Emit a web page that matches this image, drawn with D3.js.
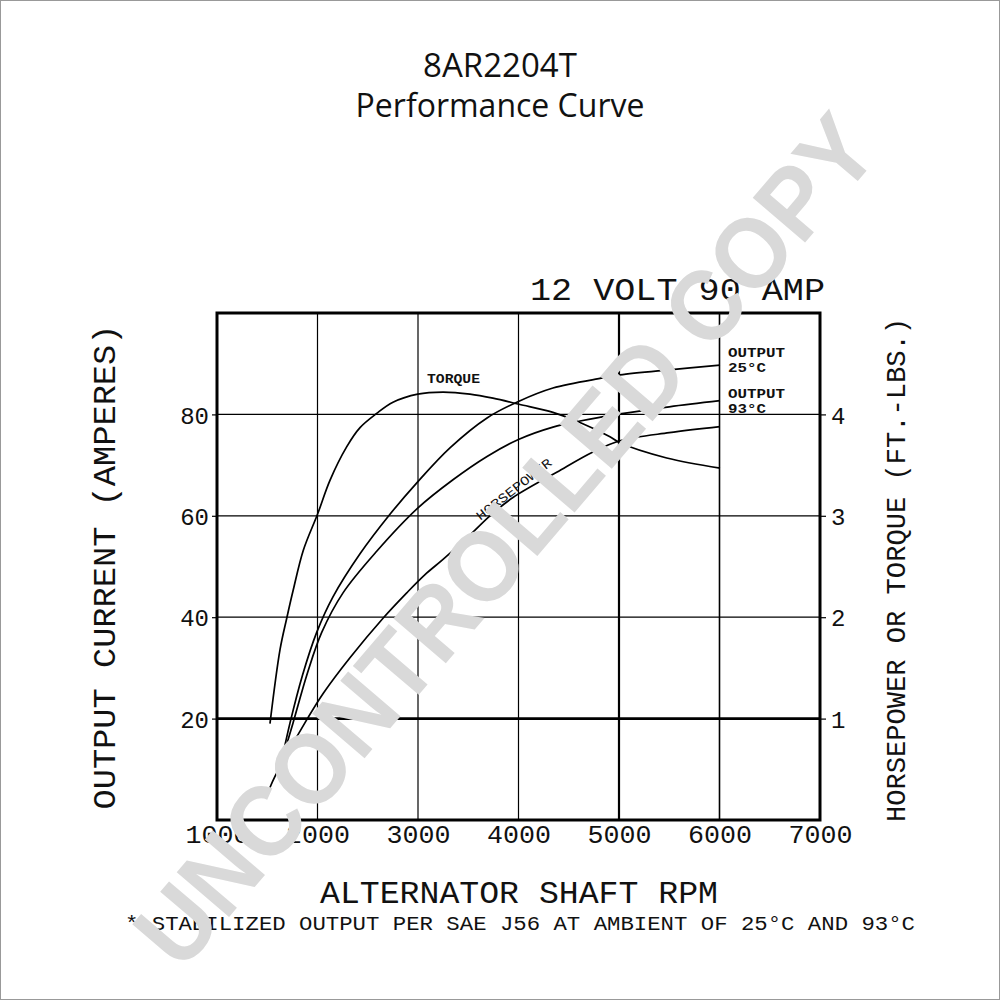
<!DOCTYPE html>
<html>
<head>
<meta charset="utf-8">
<script src="https://cdn.jsdelivr.net/npm/d3@7"></script>
<style>
html,body{margin:0;padding:0;background:#fff;}
svg{display:block;}
</style>
</head>
<body>
<svg id="chart" width="1000" height="1000"></svg>
<script>
// ---- data ----
const rpmTicks = [1000, 2000, 3000, 4000, 5000, 6000, 7000];
const ampTicks = [20, 40, 60, 80];
const hpTicks = [1, 2, 3, 4];

// output current (amperes) vs rpm
const output25 = [[1644,11.8],[1726,19.1],[1850,28.5],[1992,37.0],[2154,44.0],[2423,52.5],[2721,60.3],[2997,66.7],[3318,73.4],[3687,79.3],[4005,82.6],[4343,85.2],[4841,87.2],[5010,87.8],[5500,88.8],[6005,89.7]];
const output93 = [[1647,11.8],[1756,19.1],[1900,29.0],[2042,37.0],[2254,44.8],[2589,53.0],[2997,61.5],[3348,67.1],[3687,71.7],[4005,75.1],[4343,77.5],[4612,78.7],[5010,80.1],[5500,81.5],[6005,82.7]];
// horsepower / torque (right axis units)
const torque = [[1527,0.95],[1627,1.68],[1694,1.99],[1759,2.27],[1859,2.66],[2002,3.02],[2124,3.35],[2290,3.68],[2423,3.87],[2589,4.01],[2751,4.12],[2997,4.20],[3249,4.22],[3517,4.20],[3746,4.16],[4005,4.10],[4343,4.02],[4612,3.92],[4910,3.78],[5010,3.72],[5475,3.57],[6005,3.47]];
const horsepower = [[1527,0.32],[1577,0.43],[1876,0.96],[2058,1.25],[2323,1.60],[2652,1.99],[2888,2.24],[3070,2.42],[3249,2.57],[3485,2.78],[3716,3.00],[3945,3.18],[4380,3.43],[4741,3.63],[5010,3.74],[5500,3.82],[6005,3.88]];

const svg = d3.select("#chart");
const L = 217, R = 820, T = 313, B = 820;
const x = d3.scaleLinear().domain([1000, 7000]).range([L, R]);
const y = d3.scaleLinear().domain([0, 100]).range([B, T]);
const y2 = d3.scaleLinear().domain([0, 5]).range([B, T]);

const MONO = "'Liberation Mono', 'DejaVu Sans Mono', monospace";

// outer frame
svg.append("rect").attr("x",0.5).attr("y",0.5).attr("width",999).attr("height",999)
  .attr("fill","none").attr("stroke","#999").attr("stroke-width",1);

// titles
svg.append("text").attr("x",500).attr("y",77).attr("text-anchor","middle")
  .attr("font-family","'Open Sans', sans-serif").attr("font-size",33).attr("fill","#111")
  .text("8AR2204T");
svg.append("text").attr("x",500).attr("y",117).attr("text-anchor","middle")
  .attr("font-family","'Open Sans', sans-serif").attr("font-size",32).attr("fill","#111")
  .text("Performance Curve");

svg.append("text").attr("x",530).attr("y",300)
  .attr("font-family",MONO).attr("font-size",32).attr("fill","#111")
  .attr("textLength",295).attr("lengthAdjust","spacingAndGlyphs")
  .text("12 VOLT  90 AMP");

// grid
const grid = svg.append("g");
grid.selectAll("line.v").data(rpmTicks.slice(1, -1)).join("line")
  .attr("x1", d => x(d)).attr("x2", d => x(d)).attr("y1", T).attr("y2", B)
  .attr("stroke", "#000").attr("stroke-width", d => d === 5000 ? 2.2 : (d === 6000 ? 1.6 : 1.2));
grid.selectAll("line.h").data(ampTicks).join("line")
  .attr("x1", L).attr("x2", R).attr("y1", d => y(d)).attr("y2", d => y(d))
  .attr("stroke", "#000").attr("stroke-width", d => d === 20 ? 2.6 : 1.2);

// axes
const axL = svg.append("g").attr("transform", `translate(${L},0)`)
  .call(d3.axisLeft(y).tickValues(ampTicks).tickSize(5).tickPadding(3));
const axR = svg.append("g").attr("transform", `translate(${R},0)`)
  .call(d3.axisRight(y2).tickValues(hpTicks).tickSize(6).tickPadding(5).tickFormat(d3.format("d")));
const axB = svg.append("g").attr("transform", `translate(0,${B})`)
  .call(d3.axisBottom(x).tickValues(rpmTicks).tickSize(0).tickPadding(6).tickFormat(d3.format("d")));
[axL, axR, axB].forEach(a => {
  a.select(".domain").remove();
  a.selectAll(".tick line").attr("stroke", "#000").attr("stroke-width", 1.2);
  a.selectAll("text").attr("font-family", MONO).attr("fill", "#111");
});
axL.selectAll("text").attr("font-size", 24).attr("dy", "0.36em");
axR.selectAll("text").attr("font-size", 24).attr("dy", "0.36em");
axB.selectAll("text").attr("font-size", 26).attr("dy", "0.66em")
  .attr("textLength", 64).attr("lengthAdjust", "spacingAndGlyphs");

// curves
const lineA = d3.line().x(d => x(d[0])).y(d => y(d[1])).curve(d3.curveCatmullRom.alpha(0.5));
const lineH = d3.line().x(d => x(d[0])).y(d => y2(d[1])).curve(d3.curveCatmullRom.alpha(0.5));
const curves = svg.append("g").attr("fill", "none").attr("stroke", "#000").attr("stroke-width", 1.7);
curves.append("path").attr("d", lineA(output25));
curves.append("path").attr("d", lineA(output93));
curves.append("path").attr("d", lineH(torque));
curves.append("path").attr("d", lineH(horsepower));

// plot border
svg.append("rect").attr("x", L).attr("y", T).attr("width", R - L).attr("height", B - T)
  .attr("fill", "none").attr("stroke", "#000").attr("stroke-width", 3);

// curve labels
const lab = (tx, ty, s, len) => svg.append("text").attr("x", tx).attr("y", ty)
  .attr("font-family", MONO).attr("font-weight", "bold").attr("font-size", 13).attr("fill", "#111")
  .attr("textLength", len).attr("lengthAdjust", "spacingAndGlyphs").text(s);
lab(728, 357, "OUTPUT", 57);
lab(728, 372, "25°C", 38);
lab(728, 398, "OUTPUT", 57);
lab(728, 413, "93°C", 38);
lab(427, 383, "TORQUE", 53);
svg.append("text").attr("transform", `translate(${x(3620)},${y2(2.95)}) rotate(-38)`)
  .attr("font-family", MONO).attr("font-size", 13).attr("fill", "#111")
  .attr("textLength", 92).attr("lengthAdjust", "spacingAndGlyphs").text("HORSEPOWER");

// axis titles
svg.append("text").attr("transform", "translate(115,567) rotate(-90)").attr("text-anchor", "middle")
  .attr("font-family", MONO).attr("font-size", 32).attr("fill", "#111")
  .attr("textLength", 485).attr("lengthAdjust", "spacingAndGlyphs")
  .text("OUTPUT CURRENT (AMPERES)");
svg.append("text").attr("transform", "translate(905,570) rotate(-90)").attr("text-anchor", "middle")
  .attr("font-family", MONO).attr("font-size", 28).attr("fill", "#111")
  .attr("textLength", 504).attr("lengthAdjust", "spacingAndGlyphs")
  .text("HORSEPOWER OR TORQUE (FT.-LBS.)");
svg.append("text").attr("x", 320).attr("y", 903)
  .attr("font-family", MONO).attr("font-size", 32).attr("fill", "#111")
  .attr("textLength", 398).attr("lengthAdjust", "spacingAndGlyphs")
  .text("ALTERNATOR SHAFT RPM");
svg.append("text").attr("x", 125).attr("y", 930)
  .attr("font-family", MONO).attr("font-size", 20).attr("fill", "#111")
  .attr("textLength", 790).attr("lengthAdjust", "spacingAndGlyphs")
  .text("* STABILIZED OUTPUT PER SAE J56 AT AMBIENT OF 25°C AND 93°C");

// watermark
svg.append("text").attr("transform", "translate(505,540) rotate(-49.5)")
  .attr("text-anchor", "middle").attr("dominant-baseline", "central")
  .attr("font-family", "'Liberation Sans', Arial, sans-serif").attr("font-weight", "bold")
  .attr("font-size", 100).attr("fill", "#d9d9d9")
  .attr("textLength", 1080).attr("lengthAdjust", "spacingAndGlyphs")
  .text("UNCONTROLLED COPY");
</script>
</body>
</html>
